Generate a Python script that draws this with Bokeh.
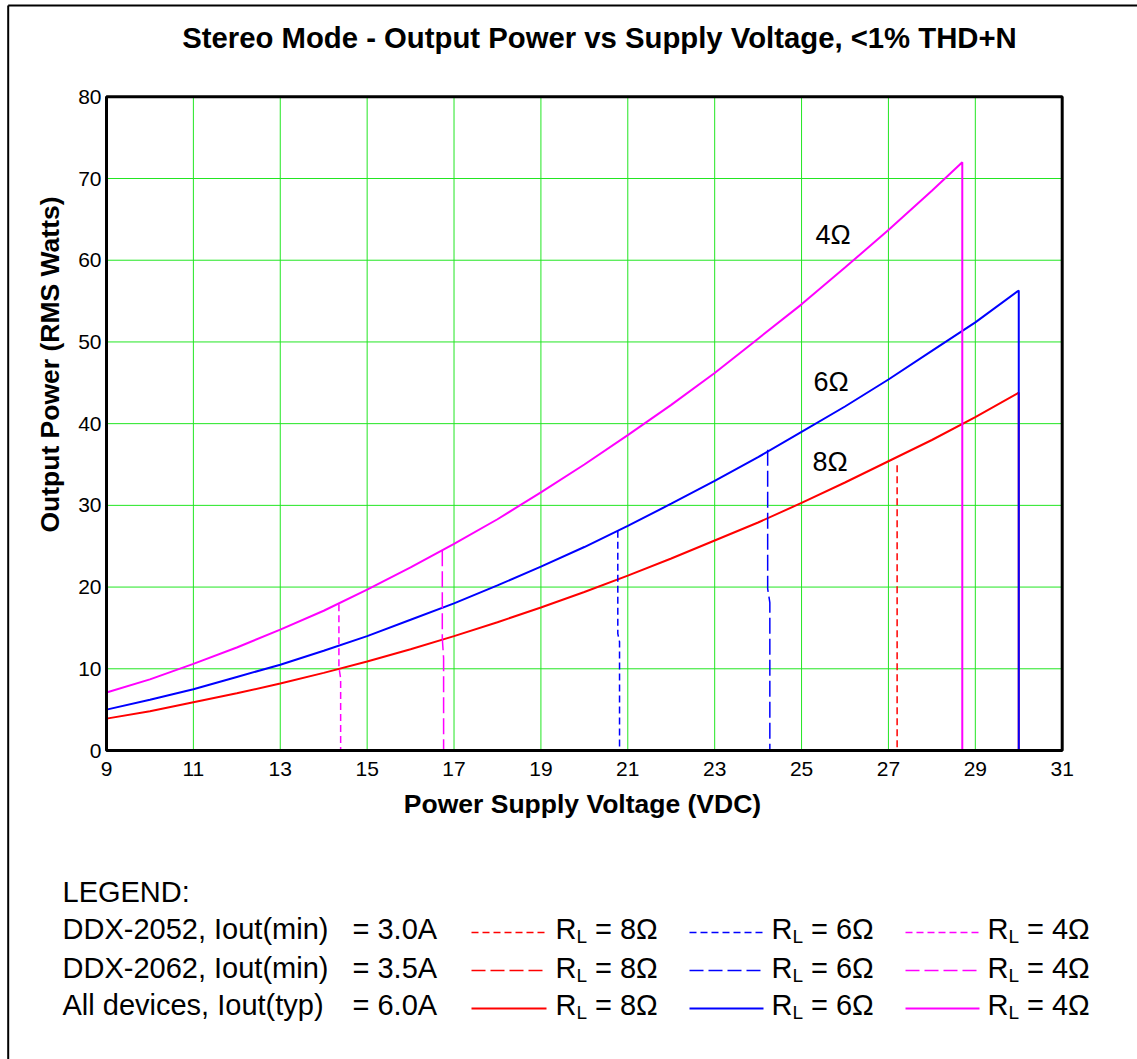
import math
from bokeh.plotting import figure
from bokeh.models import Range1d, FixedTicker, Label
from bokeh.embed import file_html
from bokeh.resources import INLINE

# ---------------- data ----------------
x_ticks = [9, 11, 13, 15, 17, 19, 21, 23, 25, 27, 29, 31]
y_ticks = [0, 10, 20, 30, 40, 50, 60, 70, 80]
x_grid = [11, 13, 15, 17, 19, 21, 23, 25, 27, 29]
y_grid = [10, 20, 30, 40, 50, 60, 70]
x_min, x_max, y_min, y_max = 9, 31, 0, 80

# All devices, Iout(typ) = 6.0A  (solid curves)
v_8ohm = [9, 10, 11, 12, 13, 14, 15, 16, 17, 18, 19, 20, 21, 22, 23, 24, 25, 26, 27, 28, 29, 30.0, 30.0]
p_8ohm = [3.9, 4.8, 5.9, 7.0, 8.2, 9.5, 10.9, 12.4, 14.0, 15.7, 17.5, 19.4, 21.4, 23.5, 25.7, 27.9, 30.3, 32.8, 35.4, 38.0, 40.8, 43.8, 0]
v_6ohm = [9, 10, 11, 12, 13, 14, 15, 16, 17, 18, 19, 20, 21, 22, 23, 24, 25, 26, 27, 28, 29, 30.0, 30.0]
p_6ohm = [5.0, 6.2, 7.5, 9.0, 10.5, 12.2, 14.0, 16.0, 18.0, 20.2, 22.5, 24.9, 27.5, 30.2, 33.0, 35.9, 39.0, 42.1, 45.4, 48.9, 52.4, 56.3, 0]
v_4ohm = [9, 10, 11, 12, 13, 14, 15, 16, 17, 18, 19, 20, 21, 22, 23, 24, 25, 26, 27, 28, 28.7, 28.7]
p_4ohm = [7.1, 8.7, 10.6, 12.6, 14.8, 17.1, 19.7, 22.4, 25.3, 28.3, 31.6, 35.0, 38.6, 42.3, 46.2, 50.4, 54.6, 59.1, 63.7, 68.5, 72.0, 0]

# DDX-2052, Iout(min) = 3.0A  (short dash drop-offs)
v_2052_8 = [27.2, 27.2]
p_2052_8 = [34.9, 0]
v_2052_6 = [20.77, 20.77, 20.81, 20.81]
p_2052_6 = [26.9, 14.3, 13.3, 0]
v_2052_4 = [14.35, 14.35, 14.39, 14.39]
p_2052_4 = [17.9, 10.2, 8.8, 0]

# DDX-2062, Iout(min) = 3.5A  (long dash drop-offs)
v_2062_6 = [24.22, 24.22, 24.27, 24.27]
p_2062_6 = [36.8, 19.8, 18.1, 0]
v_2062_4 = [16.73, 16.73, 16.76, 16.76]
p_2062_4 = [24.5, 13.7, 11.3, 0]

title_text = "Stereo Mode - Output Power vs Supply Voltage, <1% THD+N"
x_label = "Power Supply Voltage (VDC)"
y_label = "Output Power (RMS Watts)"
curve_labels = ["4\u03a9", "6\u03a9", "8\u03a9"]
legend_rows = [("DDX-2052, Iout(min)", "= 3.0A"),
               ("DDX-2062, Iout(min)", "= 3.5A"),
               ("All devices, Iout(typ)", "= 6.0A")]
legend_loads = ["= 8\u03a9", "= 6\u03a9", "= 4\u03a9"]

RED, BLUE, MAG = "#ff0000", "#0000ff", "#ff00ff"
GREEN = "#22e622"
SHORT, LONG = "7 4", "16 5"
FONT = "Liberation Sans"

# ---------------- layout: plot box in page pixels ----------------
W, H = 1137, 1059
BOX_L, BOX_R, BOX_T, BOX_B = 106.0, 1061.7, 96.3, 750.0
SX = (BOX_R - BOX_L) / (x_max - x_min)
SY = (BOX_B - BOX_T) / (y_max - y_min)

def X(px):
    return x_min + (px - BOX_L) / SX

def Y(py):
    return y_max - (py - BOX_T) / SY

p = figure(width=W, height=H, output_backend="svg", toolbar_location=None,
           title=None, x_range=Range1d(X(0), X(W)), y_range=Range1d(Y(H), Y(0)),
           min_border_left=0, min_border_right=0, min_border_top=0, min_border_bottom=0)
p.background_fill_color = "white"
p.border_fill_color = "white"
p.outline_line_color = None
p.xgrid.visible = False
p.ygrid.visible = False

# axes placed on the plot box edges
p.xaxis.fixed_location = y_min
p.yaxis.fixed_location = x_min
for ax in (p.xaxis[0], p.yaxis[0]):
    ax.axis_line_color = None
    ax.major_tick_line_color = None
    ax.minor_tick_line_color = None
    ax.major_tick_out = 0
    ax.major_tick_in = 0
    ax.major_label_text_font = FONT
    ax.major_label_text_font_size = "21px"
    ax.major_label_text_color = "black"
p.xaxis.ticker = FixedTicker(ticks=x_ticks)
p.yaxis.ticker = FixedTicker(ticks=y_ticks)
p.xaxis.major_label_standoff = 11
p.yaxis.major_label_standoff = 5

# grid lines (drawn as glyphs so they stay inside the plot box)
p.segment(x0=x_grid, y0=[y_min] * len(x_grid), x1=x_grid, y1=[y_max] * len(x_grid),
          line_color=GREEN, line_width=1)
p.segment(x0=[x_min] * len(y_grid), y0=y_grid, x1=[x_max] * len(y_grid), y1=y_grid,
          line_color=GREEN, line_width=1)

# curves
p.line(v_8ohm, p_8ohm, line_color=RED, line_width=2)
p.line(v_6ohm, p_6ohm, line_color=BLUE, line_width=2)
p.line(v_4ohm, p_4ohm, line_color=MAG, line_width=2)
p.line(v_2052_8, p_2052_8, line_color=RED, line_width=1.5, line_dash=SHORT)
p.line(v_2052_6, p_2052_6, line_color=BLUE, line_width=1.5, line_dash=SHORT)
p.line(v_2052_4, p_2052_4, line_color=MAG, line_width=1.5, line_dash=SHORT)
p.line(v_2062_6, p_2062_6, line_color=BLUE, line_width=1.5, line_dash=LONG)
p.line(v_2062_4, p_2062_4, line_color=MAG, line_width=1.5, line_dash=LONG)

# plot box outline
p.quad(left=[x_min], right=[x_max], bottom=[y_min], top=[y_max],
       fill_color=None, line_color="black", line_width=3)

# ---------------- helpers for decoration ----------------
K_BASE = 0.35   # correction: rendered alphabetic baseline sits ~0.35em low

def text(t, px, py, size, bold=False, align="left", angle=0.0):
    if angle:
        px = px - K_BASE * size
    else:
        py = py - K_BASE * size
    p.add_layout(Label(x=X(px), y=Y(py), text=t, text_font=FONT,
                       text_font_size=f"{size}px",
                       text_font_style="bold" if bold else "normal",
                       text_color="black", text_align=align,
                       text_baseline="alphabetic", angle=angle))

def seg(px1, py1, px2, py2, color, width, dash="solid"):
    p.line([X(px1), X(px2)], [Y(py1), Y(py2)], line_color=color,
           line_width=width, line_dash=dash)

# outer border (left & top visible in reference)
seg(7.7, 5, 7.7, H + 10, "black", 2)
seg(7.7, 5, W + 10, 5, "black", 2)

# titles
text(title_text, 599, 47, 29.3, bold=True, align="center")
text(x_label, 582, 813, 26.5, bold=True, align="center")
text(y_label, 59, 364, 26.5, bold=True, align="center", angle=math.pi / 2)

# curve annotations
text(curve_labels[0], 815, 244, 27)
text(curve_labels[1], 813, 391, 27)
text(curve_labels[2], 812, 471, 27)

# legend
text("LEGEND:", 62, 902, 29)
baselines = [939, 978, 1015]
line_ys = [932, 970, 1008]
dashes = [SHORT, "14 5", "solid"]
widths = [1.5, 1.5, 2]
cols = [(471, 546, 555, RED), (689, 763, 771, BLUE), (905, 979, 987, MAG)]
for r, (left_t, right_t) in enumerate(legend_rows):
    text(left_t, 62, baselines[r], 29)
    text(right_t, 352, baselines[r], 29)
    for c, (x1, x2, rx, col) in enumerate(cols):
        seg(x1, line_ys[r], x2, line_ys[r], col, widths[r], dashes[r])
        text("R", rx, baselines[r], 29)
        text("L", rx + 21, baselines[r] + 4, 19)
        text(legend_loads[c], rx + 39.5, baselines[r], 29)

open("out.html", "w").write(file_html(p, INLINE))
